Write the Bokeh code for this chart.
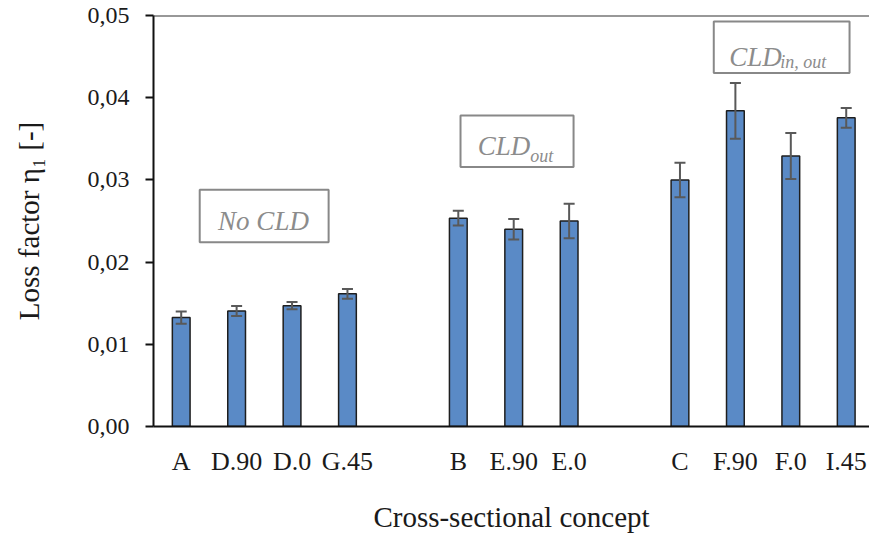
from bokeh.plotting import figure
from bokeh.models import (ColumnDataSource, Whisker, TeeHead, FixedTicker, BoxAnnotation,
                          Label, Span, Range1d)
from bokeh.embed import file_html
from bokeh.resources import INLINE

# ---- data ----
categories = ["A", "D.90", "D.0", "G.45", "B", "E.90", "E.0", "C", "F.90", "F.0", "I.45"]
slots = [0, 1, 2, 3, 5, 6, 7, 9, 10, 11, 12]
loss_factor = [0.01325, 0.01405, 0.0147, 0.01614, 0.02534, 0.0240, 0.0250, 0.0300, 0.0384, 0.0329, 0.03755]
error = [0.00075, 0.0006, 0.00045, 0.0006, 0.0009, 0.00125, 0.0021, 0.0021, 0.0034, 0.0028, 0.0012]
ytick_values = [0.0, 0.01, 0.02, 0.03, 0.04, 0.05]
ytick_labels = ["0,00", "0,01", "0,02", "0,03", "0,04", "0,05"]

SERIF = "Liberation Serif"

src = ColumnDataSource(dict(
    x=slots, top=loss_factor,
    upper=[v + e for v, e in zip(loss_factor, error)],
    lower=[v - e for v, e in zip(loss_factor, error)],
))

p = figure(width=869, height=536, output_backend="svg", toolbar_location=None,
           x_range=Range1d(-0.5, 12.42), y_range=Range1d(0, 0.05),
           min_border_left=153, min_border_right=0, min_border_top=15, min_border_bottom=110)
p.outline_line_color = None
p.xgrid.grid_line_color = None
p.ygrid.grid_line_color = None
p.background_fill_color = "white"
p.border_fill_color = "white"

p.vbar(x="x", top="top", width=0.32, bottom=0, source=src,
       fill_color="#5a8ac6", line_color="#1e1e1e", line_width=1.5)

w = Whisker(source=src, base="x", upper="upper", lower="lower",
            line_color="#595959", line_width=2, level="overlay",
            upper_head=TeeHead(size=11, line_color="#595959", line_width=2),
            lower_head=TeeHead(size=11, line_color="#595959", line_width=2))
p.add_layout(w)

# top border line
p.add_layout(Span(location=0.05, dimension="width", line_color="#333333", line_width=2))

# axes
p.yaxis.ticker = FixedTicker(ticks=ytick_values)
p.yaxis.major_label_overrides = dict(zip(ytick_values, ytick_labels))
p.yaxis.minor_tick_line_color = None
p.yaxis.major_tick_in = 0
p.yaxis.major_tick_out = 8
p.yaxis.major_tick_line_width = 2
p.yaxis.axis_line_width = 2
p.yaxis.axis_line_color = "#111111"
p.yaxis.major_tick_line_color = "#111111"
p.yaxis.major_label_text_font = SERIF
p.yaxis.major_label_text_font_size = "24px"
p.yaxis.major_label_text_color = "#1a1a1a"
p.yaxis.major_label_standoff = 16
p.yaxis.axis_label = "Loss factor η₁ [-]"
p.yaxis.axis_label_text_font = SERIF
p.yaxis.axis_label_text_font_style = "normal"
p.yaxis.axis_label_text_font_size = "29px"
p.yaxis.axis_label_text_color = "#1a1a1a"
p.yaxis.axis_label_standoff = 40

p.xaxis.ticker = FixedTicker(ticks=slots)
p.xaxis.major_label_overrides = dict(zip(slots, categories))
p.xaxis.minor_tick_line_color = None
p.xaxis.major_tick_line_color = None
p.xaxis.major_tick_out = 0
p.xaxis.major_tick_in = 0
p.xaxis.axis_line_width = 2
p.xaxis.axis_line_color = "#111111"
p.xaxis.major_label_text_font = SERIF
p.xaxis.major_label_text_font_size = "26px"
p.xaxis.major_label_text_color = "#1a1a1a"
p.xaxis.major_label_standoff = 20
p.xaxis.axis_label = "Cross-sectional concept"
p.xaxis.axis_label_text_font = SERIF
p.xaxis.axis_label_text_font_style = "normal"
p.xaxis.axis_label_text_font_size = "29px"
p.xaxis.axis_label_text_color = "#1a1a1a"
p.xaxis.axis_label_standoff = 22

# group annotations
GRAY = "#8c8c8c"
for l, r, b, t in [(0.334, 2.66, 0.02241, 0.02880),
                   (5.04, 7.08, 0.03157, 0.03783),
                   (9.61, 12.06, 0.04301, 0.04928)]:
    p.add_layout(BoxAnnotation(left=l, right=r, bottom=b, top=t, fill_color="white",
                               fill_alpha=1.0, line_color="#888888", line_alpha=1.0,
                               line_width=2, level="overlay"))

def lab(x, y, text, size, align="left"):
    p.add_layout(Label(x=x, y=y, text=text, text_font=SERIF, text_font_style="italic",
                       text_font_size=size, text_color=GRAY, text_align=align,
                       text_baseline="alphabetic", level="overlay"))

lab(1.485, 0.02494, "No CLD", "27px", "center")
lab(5.35, 0.0341, "CLD", "27px")
lab(6.30, 0.0329, "out", "18px")
lab(9.89, 0.04494, "CLD", "27px")
lab(10.81, 0.04434, "in, out", "18px")

open("out.html", "w").write(file_html(p, INLINE))
